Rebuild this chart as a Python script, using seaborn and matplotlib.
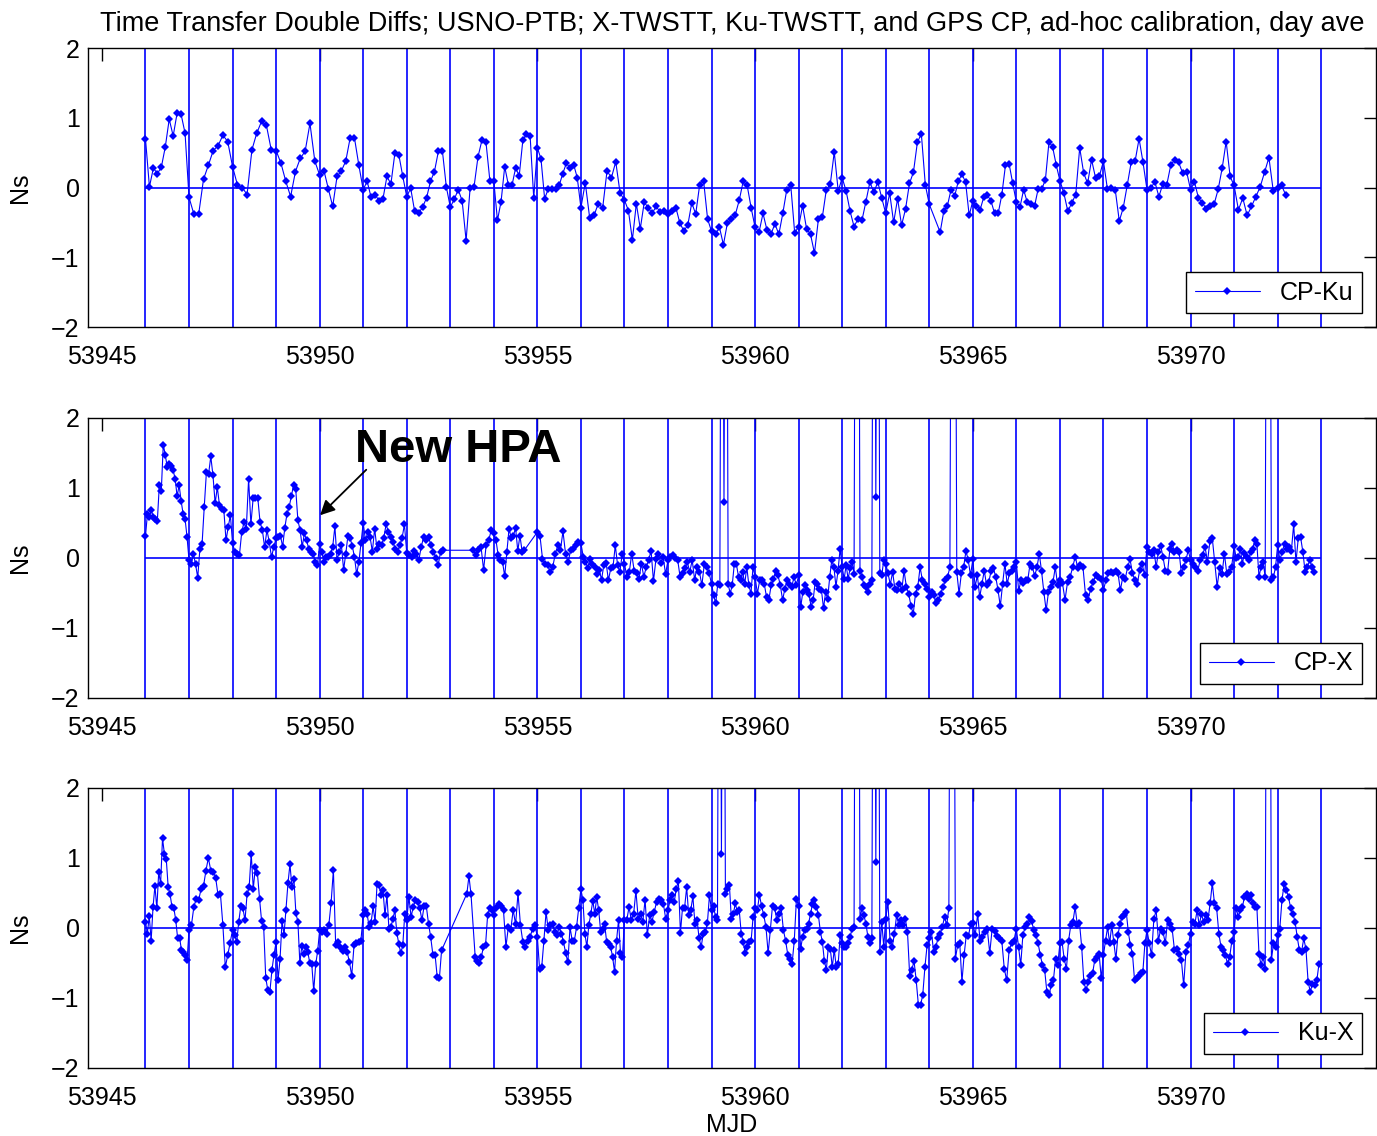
import numpy as np
import pandas as pd
import seaborn as sns
import matplotlib.pyplot as plt

# values read per day starting at MJD 53946 (None = no data, 9 = outlier far off scale)
FIRST_DAY = 53946
day_lines = list(range(53946, 53974))

cp_ku = [
    [0.70, 0.01, 0.28, 0.20, 0.29, 0.58, 0.98, 0.74, 1.07, 1.05, 0.78],
    [-0.14, -0.38, -0.38, 0.12, 0.32, 0.53, 0.60, 0.75, 0.66],
    [0.30, 0.04, 0.00, -0.10, 0.54, 0.78, 0.95, 0.89, 0.54],
    [0.53, 0.35, 0.09, -0.13, 0.23, 0.42, 0.52, 0.92, 0.38],
    [0.18, 0.24, -0.02, -0.27, 0.16, 0.24, 0.38, 0.71, 0.71, 0.32],
    [-0.03, 0.09, -0.14, -0.10, -0.19, -0.16, 0.16, 0.05, 0.49, 0.47, 0.16],
    [-0.13, -0.01, -0.34, -0.37, -0.28, -0.15, 0.09, 0.23, 0.52, 0.53, 0.01],
    [-0.28, -0.17, -0.03, -0.19, -0.76, -0.01, 0.01, 0.44, 0.68, 0.66, 0.10],
    [0.09, -0.47, -0.20, 0.30, 0.04, 0.03, 0.28, 0.17, 0.68, 0.77, 0.74, -0.15],
    [0.57, 0.41, -0.16, -0.02, -0.02, -0.02, 0.03, 0.20, 0.35, 0.28, 0.33, 0.14],
    [-0.29, 0.07, -0.43, -0.40, -0.23, -0.29, 0.24, 0.14, 0.37, -0.08],
    [-0.18, -0.33, -0.75, -0.23, -0.59, -0.21, -0.29, -0.37, -0.27, -0.35, -0.33],
    [-0.38, -0.33, -0.29, -0.51, -0.62, -0.54, -0.22, -0.38, 0.04, 0.09, -0.45],
    [-0.63, -0.67, -0.57, -0.82, -0.51, -0.45, -0.39, -0.18, 0.09, 0.03, -0.29],
    [-0.57, -0.64, -0.37, -0.61, -0.67, -0.52, -0.67, -0.37, -0.03, 0.04, -0.65],
    [-0.56, -0.26, -0.59, -0.67, -0.94, -0.45, -0.42, -0.03, 0.05, 0.51, -0.05],
    [0.14, -0.05, -0.34, -0.56, -0.45, -0.47, -0.20, 0.08, -0.07, 0.08, -0.15],
    [-0.37, -0.08, -0.50, -0.16, -0.54, -0.31, 0.06, 0.22, 0.65, 0.77, 0.04],
    [-0.24, None, None, -0.64, -0.34, -0.26, -0.03, -0.12, 0.09, 0.19, 0.08, -0.40],
    [-0.19, -0.26, -0.32, -0.14, -0.11, -0.19, -0.37, -0.37, -0.10, 0.32, 0.34, 0.06],
    [-0.21, -0.28, -0.03, -0.21, -0.23, -0.27, -0.02, -0.02, 0.11, 0.66, 0.58, 0.32],
    [0.10, -0.08, -0.34, -0.22, -0.10, 0.57, 0.21, 0.06, 0.40, 0.14, 0.17],
    [0.38, -0.02, 0.00, -0.04, -0.48, -0.29, 0.03, 0.36, 0.38, 0.70, 0.36],
    [-0.03, 0.00, 0.08, -0.13, 0.05, 0.04, 0.32, 0.40, 0.36, 0.21, 0.23],
    [-0.03, 0.08, -0.15, -0.22, -0.31, -0.26, -0.23, -0.02, 0.28, 0.66, 0.16],
    [0.03, -0.32, -0.15, -0.40, -0.27, -0.13, 0.01, 0.22, 0.43, -0.05],
    [0.00, 0.03, -0.10],
]

cp_x = [
    [0.31, 0.63, 0.59, 0.68, 0.58, 0.55, 0.53, 1.04, 0.96, 1.62, 1.47, 1.30, 1.34, 1.32, 1.25, 1.13, 0.88, 1.04, 0.82, 0.63, 0.56, 0.30],
    [-0.03, -0.09, 0.06, -0.09, -0.28, 0.13, 0.20, 0.73, 1.23, 1.20, 1.45, 1.18, 0.78, 1.01, 0.75, 0.70, 0.68, 0.25, 0.44, 0.61],
    [0.21, 0.09, 0.06, 0.04, 0.37, 0.51, 0.42, 1.13, 0.48, 0.86, 0.86, 0.86, 0.51, 0.40, 0.15, 0.40, 0.23, 0.01, 0.16],
    [0.28, 0.30, 0.32, 0.16, 0.43, 0.63, 0.73, 0.88, 1.04, 0.99, 0.54, 0.40, 0.16, 0.35, 0.25, 0.13, 0.09, 0.06, -0.06, -0.10],
    [0.20, 0.09, -0.06, 0.01, 0.02, 0.06, 0.16, 0.45, -0.03, 0.09, 0.18, -0.17, 0.06, 0.32, 0.28, 0.17, 0.01, -0.23, -0.06, 0.21],
    [0.50, 0.25, 0.37, 0.30, 0.09, 0.42, 0.13, 0.20, 0.18, 0.29, 0.48, 0.37, 0.30, 0.23, 0.13, 0.09, 0.18, 0.29, 0.48],
    [0.07, 0.04, 0.02, 0.10, 0.06, -0.03, 0.16, 0.30, 0.26, 0.30, 0.18, 0.09, 0.00, -0.10, 0.09, 0.11, None, None],
    [None, None, None, None, None, None, None, None, None, 0.11, 0.04, 0.11, 0.16, -0.17, 0.18, 0.25, 0.40],
    [0.35, 0.25, 0.04, -0.03, -0.06, -0.26, 0.09, 0.42, 0.28, 0.32, 0.43, 0.10, 0.32, 0.09, 0.11, None, None, None, None, None],
    [0.37, 0.32, -0.01, -0.08, -0.10, -0.20, -0.13, 0.06, 0.18, 0.11, 0.38, 0.06, -0.06, 0.11, 0.13, 0.18, 0.23],
    [0.21, 0.02, -0.06, -0.14, -0.01, -0.09, -0.13, -0.23, -0.17, -0.31, -0.10, -0.07, -0.32, -0.15, -0.13, 0.18, -0.10, -0.20, 0.05],
    [-0.08, -0.27, -0.20, 0.06, -0.18, -0.22, -0.30, -0.08, -0.27, -0.13, -0.03, 0.10, -0.33, -0.02, 0.06, -0.07, 0.01, -0.23],
    [-0.03, 0.02, 0.04, 0.00, -0.03, -0.27, -0.21, -0.15, -0.06, -0.20, -0.03, -0.31, -0.13, -0.20, -0.39, -0.09, -0.13, -0.22],
    [-0.37, -0.53, -0.65, -0.37, -0.39, 9, 0.80, 9, -0.37, -0.51, -0.38, -0.08, -0.09, -0.27, -0.31, -0.20, -0.37, -0.13, -0.39, -0.51, -0.13],
    [-0.27, -0.51, -0.32, -0.32, -0.37, -0.56, -0.60, -0.39, -0.30, -0.18, -0.25, -0.39, -0.60, -0.44, -0.32, -0.37, -0.41, -0.27, -0.39],
    [-0.25, -0.70, -0.49, -0.39, -0.46, -0.51, -0.70, -0.60, -0.34, -0.37, -0.44, -0.46, -0.72, -0.49, -0.58, -0.27, -0.03, -0.13, -0.41, -0.18, 0.13],
    [-0.13, -0.30, -0.10, -0.30, -0.15, -0.06, -0.23, 9, 9, -0.18, -0.27, -0.39, -0.41, -0.49, -0.37, -0.32, 9, 0.87, 9, -0.22, -0.25, -0.03],
    [-0.08, -0.22, -0.38, -0.20, -0.44, -0.46, -0.37, -0.46, -0.18, -0.41, -0.51, -0.68, -0.80, -0.51, -0.41, -0.13, -0.32, -0.37, -0.44],
    [-0.56, -0.49, -0.53, -0.65, -0.60, -0.51, -0.41, -0.32, -0.27, -0.13, 9, 9, -0.20, -0.51, -0.22, -0.13, 0.10, -0.03, -0.25],
    [-0.02, -0.41, -0.25, -0.56, -0.37, -0.18, -0.39, -0.34, -0.18, -0.15, -0.27, -0.46, -0.69, -0.37, -0.08, -0.37, -0.22, -0.18, -0.13],
    [-0.06, -0.47, -0.32, -0.36, -0.32, -0.31, -0.08, -0.13, -0.26, -0.13, 0.06, -0.19, -0.49, -0.75, -0.49, -0.41, -0.34, -0.13, -0.39],
    [-0.32, -0.36, -0.60, -0.34, -0.27, -0.13, 0.02, -0.15, -0.10, -0.13, -0.53, -0.60, -0.44, -0.34, -0.25, -0.27, -0.30],
    [-0.46, -0.32, -0.22, -0.20, -0.22, -0.18, -0.22, -0.46, -0.27, -0.30, -0.13, -0.02, -0.22, -0.32, -0.37, -0.17, -0.08, -0.25],
    [0.16, 0.09, 0.06, 0.11, -0.13, 0.09, 0.17, 0.01, -0.18, -0.20, 0.13, 0.20, 0.09, 0.11, 0.09, -0.22, -0.13, -0.03, 0.11],
    [-0.03, -0.08, -0.13, -0.18, -0.03, 0.04, 0.16, -0.06, 0.24, 0.28, -0.06, -0.41, -0.15, -0.23, 0.06, -0.23, -0.20, -0.13],
    [0.17, 0.00, 0.01, 0.13, -0.08, 0.07, 0.02, -0.03, 0.09, 0.13, 0.25, 0.20, -0.27, -0.13, -0.06, -0.27, 9, 9, -0.32, -0.27, -0.13],
    [0.18, -0.03, 0.09, 0.20, 0.13, 0.16, 0.10, 0.48, -0.06, 0.28, 0.30, 0.09, -0.20, -0.13, -0.03, -0.13, -0.20],
]

ku_x = [
    [0.09, -0.08, 0.17, -0.18, 0.30, 0.60, 0.28, 0.80, 0.63, 1.28, 1.06, 0.98, 0.58, 0.48, 0.30, 0.28, 0.11, -0.15, -0.14, -0.31, -0.34, -0.38, -0.46],
    [-0.03, 0.04, 0.30, 0.42, 0.40, 0.56, 0.60, 0.82, 1.00, 0.82, 0.80, 0.72, 0.47, 0.48, 0.04, -0.56, -0.39, -0.21],
    [-0.03, -0.10, -0.20, 0.09, 0.32, 0.28, 0.11, 0.48, 0.58, 1.06, 0.56, 0.87, 0.78, 0.42, 0.10, 0.02, -0.71, -0.89, -0.91, -0.60, -0.38],
    [-0.20, -0.74, -0.44, 0.10, -0.10, 0.26, 0.64, 0.91, 0.58, 0.70, 0.21, 0.09, -0.50, -0.26, -0.37, -0.27, -0.34, -0.50, -0.51, -0.90, -0.52, -0.33],
    [-0.03, -0.06, -0.03, -0.09, 0.04, 0.36, 0.83, -0.25, -0.20, -0.27, -0.33, -0.27, -0.34, -0.49, -0.68, -0.25, -0.21, -0.20, -0.18],
    [0.18, 0.25, 0.20, 0.01, 0.07, 0.31, 0.09, 0.63, 0.61, 0.47, 0.54, 0.18, 0.47, -0.01, 0.01, 0.13, 0.25, -0.07, -0.23, -0.36, -0.25, 0.20],
    [0.11, 0.44, 0.16, 0.30, 0.40, 0.37, 0.28, 0.11, 0.32, 0.31, 0.06, -0.13, -0.38, -0.38, -0.70, -0.72, -0.32, None, None, None],
    [None, None, None, None, None, None, None, None, 0.49, 0.74, 0.48, None, -0.41, -0.47, -0.50, -0.41, -0.27, -0.25, 0.18, 0.28, 0.25],
    [0.18, 0.28, 0.34, 0.32, 0.25, -0.27, 0.01, -0.03, 0.26, 0.05, 0.50, 0.04, -0.20, -0.27, -0.18, -0.13, -0.01, 0.04],
    [-0.13, -0.58, -0.56, -0.18, 0.23, -0.03, 0.04, 0.06, -0.06, -0.10, 0.02, -0.08, -0.20, -0.36, -0.49, 0.01, -0.18, -0.18, 0.01, 0.29],
    [0.55, 0.40, -0.08, -0.27, 0.04, 0.20, 0.39, 0.20, 0.44, 0.25, -0.06, -0.01, 0.05, -0.20, -0.23, -0.27, -0.41, -0.63, -0.18, 0.11, -0.36, -0.41],
    [0.11, 0.11, 0.30, 0.11, 0.20, 0.53, 0.13, 0.20, 0.09, 0.40, -0.10, 0.18, 0.09, 0.23, 0.37, 0.42, 0.40, 0.34, 0.13],
    [0.25, 0.40, 0.47, 0.37, 0.56, 0.67, -0.07, 0.29, 0.29, 0.58, 0.18, 0.26, 0.45, 0.05, 0.12, -0.15, -0.27, -0.08, -0.06, 0.07, 0.47],
    [0.25, 0.31, 0.16, 0.11, 9, 1.06, 9, 0.48, 0.56, 0.62, 0.13, 0.20, 0.35, 0.23, 0.25, -0.08, -0.20, -0.36, -0.27, -0.20, -0.18, 0.16],
    [0.28, 0.25, 0.47, 0.31, 0.18, 0.01, -0.36, -0.03, 0.32, 0.28, 0.11, 0.20, 0.28, -0.03, -0.18, -0.38, -0.44, -0.51, -0.18, 0.42],
    [0.31, -0.30, -0.13, -0.03, -0.01, 0.06, 0.20, 0.34, 0.40, 0.30, 0.18, -0.06, -0.20, -0.47, -0.60, -0.27, -0.30, -0.56, -0.31, -0.56, -0.51, -0.10],
    [-0.22, -0.27, -0.27, -0.22, -0.13, -0.01, 0.01, 9, 9, 0.13, 0.28, 0.18, 0.06, -0.13, -0.22, -0.14, 9, 0.94, 9, -0.34, 0.09, -0.27],
    [0.13, 0.37, -0.18, -0.27, -0.08, 0.18, 0.04, 0.11, 0.04, 0.13, -0.06, -0.68, -0.60, -0.47, -0.75, -1.10, -1.10, -0.96, -0.56, -0.25],
    [-0.15, -0.06, -0.34, -0.27, -0.15, -0.08, 0.01, 0.16, 0.04, 0.28, 9, 9, -0.44, -0.25, -0.22, -0.77, -0.39, -0.10, -0.12, 0.06],
    [0.07, -0.10, 0.20, -0.18, -0.13, -0.06, -0.02, -0.36, -0.01, -0.04, -0.12, -0.15, -0.19, -0.58, -0.75, -0.32, -0.22, -0.18],
    [-0.01, -0.27, -0.53, -0.10, 0.01, 0.06, 0.16, 0.10, -0.03, -0.10, -0.22, -0.39, -0.53, -0.60, -0.91, -0.96, -0.82, -0.75, -0.45, -0.53],
    [-0.22, -0.20, -0.45, -0.58, -0.18, 0.04, 0.09, 0.30, 0.04, 0.07, -0.27, -0.77, -0.89, -0.77, -0.68, -0.65, -0.46, -0.41, -0.37, -0.72],
    [-0.39, -0.18, 0.01, -0.22, 0.04, -0.20, -0.45, -0.10, 0.06, 0.16, 0.18, 0.23, -0.06, -0.25, -0.37, -0.75, -0.72, -0.68, -0.64, -0.63, -0.22],
    [-0.03, -0.22, -0.39, 0.13, 0.25, -0.18, -0.01, -0.06, -0.22, 0.11, 0.06, -0.02, -0.32, -0.30, -0.37, -0.46, -0.82, -0.34, -0.25],
    [-0.08, 0.09, 0.06, 0.25, 0.04, 0.20, 0.09, 0.18, 0.11, 0.35, 0.64, 0.35, 0.28, -0.08, -0.27, -0.31, -0.39, -0.51, -0.41, -0.18],
    [-0.06, 0.29, 0.16, 0.25, 0.30, 0.44, 0.49, 0.42, 0.47, 0.35, 0.30, 0.30, -0.37, -0.53, -0.41, -0.58, 9, 9, -0.46, -0.22, -0.27],
    [-0.10, -0.01, 0.40, 0.63, 0.54, 0.44, 0.28, 0.20, 0.09, -0.13, -0.32, -0.34, -0.15, -0.30, -0.77, -0.91, -0.80, -0.82, -0.75, -0.51],
]

series = [("CP-Ku", cp_ku, 11), ("CP-X", cp_x, 19), ("Ku-X", ku_x, 20)]
title = ("Time Transfer Double Diffs; USNO-PTB; X-TWSTT, Ku-TWSTT, "
         "and GPS CP, ad-hoc calibration, day ave")


def to_frame(days, per_day):
    xs, ys = [], []
    for k, vals in enumerate(days):
        n = len(vals) if k < len(days) - 1 else max(len(vals), per_day)
        xs.extend(FIRST_DAY + k + np.arange(len(vals)) / n)
        ys.extend(vals)
    df = pd.DataFrame({"mjd": xs, "ns": np.array(ys, dtype=float)})
    return df.dropna()


sns.set_style("white")
plt.rcParams["font.family"] = ["Liberation Sans", "DejaVu Sans"]
plt.rcParams["text.color"] = "black"
plt.rcParams["axes.labelcolor"] = "black"

fig = plt.figure(figsize=(13.77, 11.36), dpi=100)
boxes = [[0.0639, 0.7121, 0.9354, 0.2456],
         [0.0639, 0.3856, 0.9354, 0.2465],
         [0.0639, 0.0599, 0.9354, 0.2465]]

axes = []
for (name, days, per_day), box in zip(series, boxes):
    ax = fig.add_axes(box)
    df = to_frame(days, per_day)
    ax.vlines(day_lines, -2, 2, color="blue", lw=1.2)
    ax.hlines(0, day_lines[0], day_lines[-1], color="blue", lw=1.2)
    sns.lineplot(data=df, x="mjd", y="ns", ax=ax, color="blue", lw=0.8,
                 marker="D", markersize=3.8, markeredgewidth=0,
                 estimator=None, sort=False, label=name)
    ax.set_xlim(53944.68, 53974.26)
    ax.set_ylim(-2, 2)
    ax.set_xticks(range(53945, 53971, 5))
    ax.set_yticks([-2, -1, 0, 1, 2])
    ax.ticklabel_format(axis="x", useOffset=False, style="plain")
    ax.tick_params(direction="in", length=9, width=1, top=True, right=True,
                   labelsize=18, colors="black", pad=6)
    ax.tick_params(axis="x", pad=13)
    for sp in ax.spines.values():
        sp.set_color("black")
        sp.set_linewidth(1)
    ax.set_ylabel("Ns", fontsize=18, labelpad=14)
    ax.set_xlabel("")
    leg = ax.legend(loc="lower right", fontsize=18, frameon=True, fancybox=False,
                    framealpha=1, edgecolor="black", borderaxespad=0.55,
                    handlelength=2.6, handletextpad=0.8, borderpad=0.35)
    leg.get_frame().set_linewidth(1)
    axes.append(ax)

axes[0].set_title(title, fontsize=19.5, pad=12, color="black")
axes[2].set_xlabel("MJD", fontsize=18, labelpad=2)

axes[1].text(53950.82, 1.37, "New HPA", fontsize=34, fontweight="bold",
             ha="left", va="baseline", color="black")
axes[1].annotate("", xy=(53950.01, 0.61), xytext=(53951.07, 1.26),
                 arrowprops=dict(arrowstyle="-|>", color="black", lw=1.3,
                                 mutation_scale=22, shrinkA=0, shrinkB=0))

fig.savefig("out.png", dpi=100)
